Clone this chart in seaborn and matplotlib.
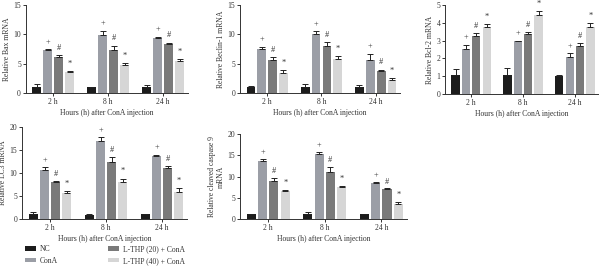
import numpy as np
import pandas as pd
import matplotlib
matplotlib.use("Agg")
import matplotlib.pyplot as plt
import seaborn as sns
from matplotlib.patches import Patch

times = ["2 h", "8 h", "24 h"]
groups = ["NC", "ConA", "L-THP (20) + ConA", "L-THP (40) + ConA"]
colors = ["#1c1c1c", "#9b9ea6", "#7a7a7a", "#d6d6d6"]
marks = ["", "+", "#", "*"]

bax_mean = [[1.1, 1.0, 1.1], [7.3, 9.9, 9.3], [6.1, 7.3, 8.4], [3.6, 4.8, 5.5]]
bax_err = [[0.4, 0.05, 0.3], [0.2, 0.7, 0.3], [0.4, 0.8, 0.2], [0.1, 0.4, 0.3]]

beclin_mean = [[1.0, 1.1, 1.0], [7.5, 10.1, 5.7], [5.7, 8.0, 3.7], [3.4, 5.8, 2.3]]
beclin_err = [[0.2, 0.4, 0.3], [0.4, 0.4, 1.0], [0.5, 0.7, 0.3], [0.5, 0.5, 0.2]]

bcl2_mean = [[1.07, 1.07, 1.0], [2.5, 2.96, 2.1], [3.28, 3.38, 2.68], [3.77, 4.43, 3.77]]
bcl2_err = [[0.35, 0.38, 0.07], [0.27, 0.02, 0.2], [0.15, 0.08, 0.18], [0.15, 0.25, 0.2]]

lc3_mean = [[1.15, 0.95, 1.0], [10.6, 16.9, 13.6], [8.0, 12.3, 11.0], [5.6, 8.1, 5.8]]
lc3_err = [[0.3, 0.05, 0.1], [0.6, 0.8, 0.4], [0.2, 1.1, 0.5], [0.5, 0.7, 1.0]]

casp_mean = [[1.1, 1.1, 1.1], [13.7, 15.4, 8.6], [9.0, 11.0, 7.0], [6.7, 7.5, 3.6]]
casp_err = [[0.2, 0.5, 0.2], [0.4, 0.3, 0.1], [0.7, 1.2, 0.2], [0.2, 0.3, 0.4]]

sns.set_style("ticks")
plt.rcParams["font.family"] = ["Liberation Serif", "DejaVu Serif"]
plt.rcParams["font.size"] = 5.5
plt.rcParams["axes.linewidth"] = 0.7
plt.rcParams["xtick.major.width"] = 0.7
plt.rcParams["ytick.major.width"] = 0.7
plt.rcParams["xtick.major.size"] = 2
plt.rcParams["ytick.major.size"] = 2
plt.rcParams["axes.edgecolor"] = "#333333"
plt.rcParams["text.color"] = "#333333"
plt.rcParams["xtick.color"] = "#333333"
plt.rcParams["ytick.color"] = "#333333"
plt.rcParams["axes.labelcolor"] = "#333333"

fig = plt.figure(figsize=(6.0, 2.77), dpi=100)

def panel(rect, means, errs, ylabel, ymax, yticks):
    ax = fig.add_axes(rect)
    rows = []
    for gi, g in enumerate(groups):
        for ti, t in enumerate(times):
            rows.append({"time": t, "group": g, "value": means[gi][ti], "err": errs[gi][ti]})
    df = pd.DataFrame(rows)
    sns.barplot(data=df, x="time", y="value", hue="group", order=times,
                hue_order=groups, palette=colors, width=0.8, gap=0.2,
                errorbar=None, legend=False, ax=ax, saturation=1, linewidth=0)
    patches = ax.patches
    k = 0
    for gi in range(len(groups)):
        for ti in range(len(times)):
            p = patches[k]
            k += 1
            xc = p.get_x() + p.get_width() / 2
            h = means[gi][ti]
            e = errs[gi][ti]
            ax.errorbar([xc], [h], yerr=[[0], [e]], fmt="none", ecolor="#222222",
                        elinewidth=0.7, capsize=2.0, capthick=0.7)
            if marks[gi]:
                ax.text(xc, h + e + ymax * 0.035, marks[gi], ha="center", va="bottom",
                        fontsize=6, color="#333333")
    ax.set_xlim(-0.5, 2.45)
    ax.set_ylim(0, ymax)
    ax.set_yticks(yticks)
    ax.set_xlabel("Hours (h) after ConA injection", labelpad=2)
    ax.set_ylabel(ylabel, labelpad=2)
    ax.tick_params(axis="both", pad=1.5, labelsize=5.5)
    sns.despine(ax=ax)
    return ax

panel([0.043, 0.664, 0.27, 0.318], bax_mean, bax_err, "Relative Bax mRNA", 15, [0, 5, 10, 15])
panel([0.400, 0.664, 0.267, 0.318], beclin_mean, beclin_err, "Relative Beclin-1 mRNA", 15, [0, 5, 10, 15])
panel([0.742, 0.661, 0.255, 0.321], bcl2_mean, bcl2_err, "Relative Bcl-2 mRNA", 5, [0, 1, 2, 3, 4, 5])
panel([0.037, 0.209, 0.275, 0.333], lc3_mean, lc3_err, "Relative LC3 mRNA", 20, [0, 5, 10, 15, 20])
panel([0.400, 0.209, 0.278, 0.307], casp_mean, casp_err, "Relative cleaved caspase 9\nmRNA", 20, [0, 5, 10, 15, 20])

handles = [Patch(facecolor=c, edgecolor="none") for c in colors]
fig.legend(handles, groups, ncol=2, loc="upper left", bbox_to_anchor=(0.03, 0.14),
           frameon=False, fontsize=5.5, handlelength=1.4, handleheight=0.5,
           handletextpad=0.6, columnspacing=6.5, labelspacing=0.5)

fig.savefig("out.png", dpi=100)
